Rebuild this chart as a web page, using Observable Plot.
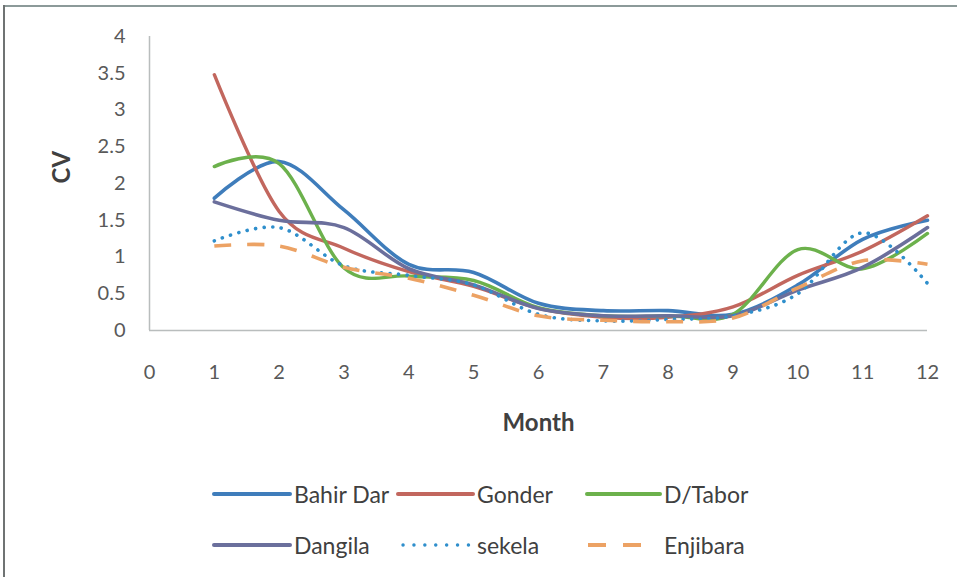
<!DOCTYPE html>
<html>
<head>
<meta charset="utf-8">
<script src="https://cdn.jsdelivr.net/npm/d3@7"></script>
<script src="https://cdn.jsdelivr.net/npm/@observablehq/plot@0.6"></script>
<style>
html, body { margin: 0; padding: 0; background: #fff; }
#frame { position: relative; width: 957px; height: 577px; overflow: hidden; background: #fff; font-family: Lato, "Open Sans", sans-serif; }
#frame .topline { position: absolute; left: 4px; top: 5px; width: 953px; height: 2px; background: #8c9a99; }
#frame .leftline { position: absolute; left: 3px; top: 5px; width: 2px; height: 572px; background: #6f7373; }
#chart { position: absolute; left: 0; top: 0; }
#legend { position: absolute; left: 0; top: 460px; }
</style>
</head>
<body>
<div id="frame">
  <div class="topline"></div>
  <div class="leftline"></div>
  <div id="chart"></div>
  <svg id="legend" width="957" height="117"></svg>
</div>
<script>
// ---- data ----
const months = [1, 2, 3, 4, 5, 6, 7, 8, 9, 10, 11, 12];
const seriesNames = ["Bahir Dar", "Gonder", "D/Tabor", "Dangila", "sekela", "Enjibara"];
const bahirDar = [1.80, 2.30, 1.64, 0.90, 0.79, 0.37, 0.27, 0.27, 0.22, 0.62, 1.24, 1.50];
const gonder   = [3.48, 1.62, 1.12, 0.80, 0.60, 0.30, 0.18, 0.18, 0.32, 0.75, 1.08, 1.56];
const dTabor   = [2.23, 2.27, 0.85, 0.74, 0.68, 0.31, 0.20, 0.20, 0.22, 1.10, 0.84, 1.32];
const dangila  = [1.75, 1.50, 1.40, 0.84, 0.62, 0.30, 0.20, 0.20, 0.20, 0.55, 0.86, 1.40];
const sekela   = [1.22, 1.40, 0.88, 0.75, 0.62, 0.22, 0.13, 0.15, 0.20, 0.50, 1.33, 0.64];
const enjibara = [1.15, 1.15, 0.86, 0.71, 0.48, 0.20, 0.14, 0.12, 0.17, 0.58, 0.95, 0.90];
const xTicks = [0, 1, 2, 3, 4, 5, 6, 7, 8, 9, 10, 11, 12];
const yTicks = [0, 0.5, 1, 1.5, 2, 2.5, 3, 3.5, 4];
const xLabel = "Month";
const yLabel = "CV";

// ---- styles ----
const seriesValues = [bahirDar, gonder, dTabor, dangila, sekela, enjibara];
const colors = ["#3f7dbb", "#c2675e", "#6cb14c", "#6b6f9c", "#2f8fcc", "#eca264"];
const dashes = [null, null, null, null, "0.1 8.5", "17 16"];
const caps = ["round", "round", "round", "round", "round", "butt"];
const widths = [3.6, 3.4, 3.4, 3.6, 3.6, 3.6];

const rows = [];
seriesNames.forEach((name, i) => seriesValues[i].forEach((v, j) => rows.push({series: name, month: months[j], cv: v})));

const chart = Plot.plot({
  width: 957,
  height: 460,
  marginLeft: 149,
  marginRight: 30,
  marginTop: 36,
  marginBottom: 130,
  style: {fontFamily: "Lato, 'Open Sans', sans-serif", fontSize: "20px", color: "#595959", background: "transparent", overflow: "visible"},
  x: {domain: [0, 12]},
  y: {domain: [0, 4]},
  marks: [
    Plot.ruleY([0], {stroke: "#b9bdbd", strokeWidth: 1.5}),
    Plot.ruleX([0], {stroke: "#b9bdbd", strokeWidth: 1.5}),
    Plot.axisX({ticks: xTicks, tickSize: 0, tickPadding: 34, tickFormat: d => String(d), label: null}),
    Plot.axisY({ticks: yTicks, tickSize: 0, tickPadding: 24, tickFormat: d => String(d), label: null}),
    ...seriesNames.map((name, i) => Plot.line(rows.filter(r => r.series === name), {
      x: "month", y: "cv", stroke: colors[i], strokeWidth: widths[i],
      curve: "cardinal", tension: 0,
      strokeDasharray: dashes[i] || undefined, strokeLinecap: caps[i], strokeLinejoin: "round"
    })),
    Plot.text([yLabel], {text: d => d, frameAnchor: "left", dx: -87, rotate: -90, fontWeight: "bold", fontSize: 24, fill: "#404040"}),
    Plot.text([xLabel], {text: d => d, frameAnchor: "bottom", dy: 93, lineAnchor: "middle", fontWeight: "bold", fontSize: 24, fill: "#404040"})
  ]
});
document.getElementById("chart").appendChild(chart);

// ---- legend ----
const legend = d3.select("#legend");
const colX = [214, 398, 587];
const swW = [76, 75, 73];
const rowY = [34, 85];
seriesNames.forEach((name, i) => {
  const c = i % 3, r = Math.floor(i / 3);
  let x1 = colX[c], x2 = colX[c] + swW[c];
  let dash = dashes[i];
  if (name === "sekela") { x1 = colX[c] + 5; x2 = colX[c] + 72; dash = "0.1 10.8"; }
  if (name === "Enjibara") { x1 = colX[c] + 1; x2 = colX[c] + 55; dash = "18 17"; }
  legend.append("line")
    .attr("x1", x1).attr("x2", x2).attr("y1", rowY[r]).attr("y2", rowY[r])
    .attr("stroke", colors[i]).attr("stroke-width", name === "sekela" ? 3.4 : 4)
    .attr("stroke-linecap", caps[i])
    .attr("stroke-dasharray", dash);
  legend.append("text")
    .attr("x", colX[c] + swW[c] + 4).attr("y", rowY[r])
    .attr("dominant-baseline", "central")
    .attr("font-family", "Lato, 'Open Sans', sans-serif")
    .attr("font-size", 23)
    .attr("fill", "#404040")
    .text(name);
});
</script>
</body>
</html>
